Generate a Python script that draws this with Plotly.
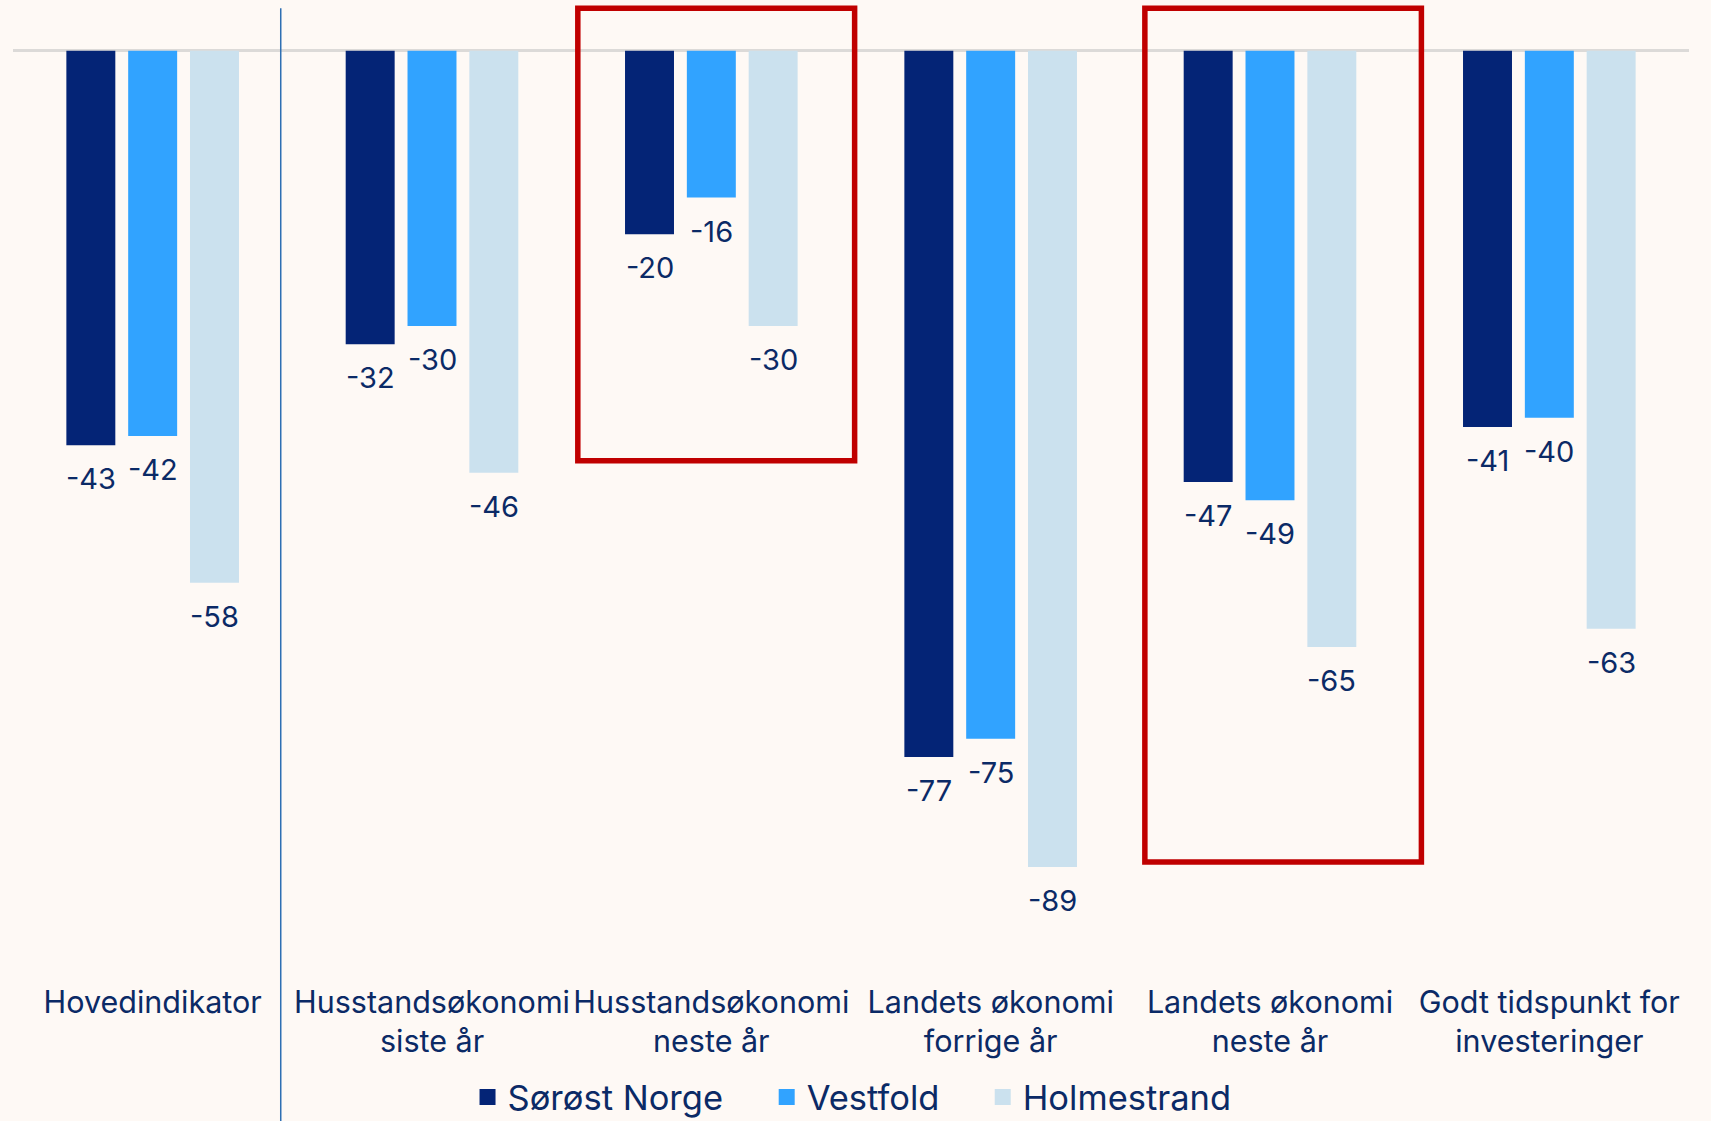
import plotly.graph_objects as go

categories = ["Hovedindikator", "Husstandsøkonomi siste år", "Husstandsøkonomi neste år",
              "Landets økonomi forrige år", "Landets økonomi neste år", "Godt tidspunkt for investeringer"]
tick_labels = ["Hovedindikator", "Husstandsøkonomi<br>siste år", "Husstandsøkonomi<br>neste år",
               "Landets økonomi<br>forrige år", "Landets økonomi<br>neste år", "Godt tidspunkt for<br>investeringer"]
series_names = ["Sørøst Norge", "Vestfold", "Holmestrand"]
sorost = [-43, -32, -20, -77, -47, -41]
vestfold = [-42, -30, -16, -75, -49, -40]
holmestrand = [-58, -46, -30, -89, -65, -63]
series_values = [sorost, vestfold, holmestrand]
colors = ["#042476", "#31A3FF", "#CBE1EE"]

BG = "#FEF9F5"
TEXT = "#0B2A66"
FONT = "Inter"
bargap = 0.336
bargroupgap = 0.208
slot = (1 - bargap) / 3

fig = go.Figure()
for name, vals, col in zip(series_names, series_values, colors):
    fig.add_trace(go.Bar(x=categories, y=vals, name=name, marker=dict(color=col, line=dict(width=0)),
                         showlegend=False))
# legend entries, each in its own legend box so the spacing can follow the reference
legend_ids = ["legend", "legend2", "legend3"]
legend_x = [0.2712, 0.4497, 0.5786]
for name, col, lid in zip(series_names, colors, legend_ids):
    fig.add_trace(go.Scatter(x=[None], y=[None], mode="markers", name=name, legend=lid,
                             marker=dict(symbol="square", size=19, color=col)))

annotations = []
for k, vals in enumerate(series_values):
    for i, v in enumerate(vals):
        annotations.append(dict(x=i + (k - 1) * slot, y=v, xref="x", yref="y", text=str(v),
                                showarrow=False, yanchor="top", xanchor="center", yshift=-14,
                                font=dict(family=FONT, size=29, color=TEXT)))

shapes = [
    dict(type="line", xref="x", yref="paper", x0=0.4585, x1=0.4585, y0=-0.2, y1=0.9967,
         line=dict(color="#2E6FB3", width=1.5)),
    dict(type="rect", xref="x", yref="y", x0=1.522, x1=2.513, y0=-44.7, y1=4.65,
         line=dict(color="#C00000", width=5.5), fillcolor="rgba(0,0,0,0)"),
    dict(type="rect", xref="x", yref="y", x0=3.552, x1=4.542, y0=-88.45, y1=4.65,
         line=dict(color="#C00000", width=5.5), fillcolor="rgba(0,0,0,0)"),
]

legend_common = dict(orientation="h", xanchor="left", y=-0.134, yanchor="middle",
                     font=dict(family=FONT, size=34.5, color=TEXT), bgcolor="rgba(0,0,0,0)",
                     itemsizing="trace")

fig.update_layout(
    width=1711, height=1121,
    paper_bgcolor=BG, plot_bgcolor=BG,
    margin=dict(l=13, r=22, t=4.8, b=152.8, autoexpand=False),
    barmode="group", bargap=bargap, bargroupgap=bargroupgap,
    font=dict(family=FONT, color=TEXT),
    annotations=annotations, shapes=shapes,
    legend=dict(x=legend_x[0], **legend_common),
    legend2=dict(x=legend_x[1], **legend_common),
    legend3=dict(x=legend_x[2], **legend_common),
    xaxis=dict(tickmode="array", tickvals=categories, ticktext=tick_labels, showgrid=False,
               showline=False, ticks="", ticklabelstandoff=13, automargin=False, tickangle=0,
               tickfont=dict(family=FONT, size=30.5, color=TEXT), fixedrange=True),
    yaxis=dict(range=[-100, 5], showgrid=False, showticklabels=False, zeroline=True,
               zerolinecolor="#DCDAD8", zerolinewidth=2.5, showline=False, automargin=False),
)

fig.write_html("out.html", config={"displayModeBar": False},
               post_script="document.body.style.margin='0';")
